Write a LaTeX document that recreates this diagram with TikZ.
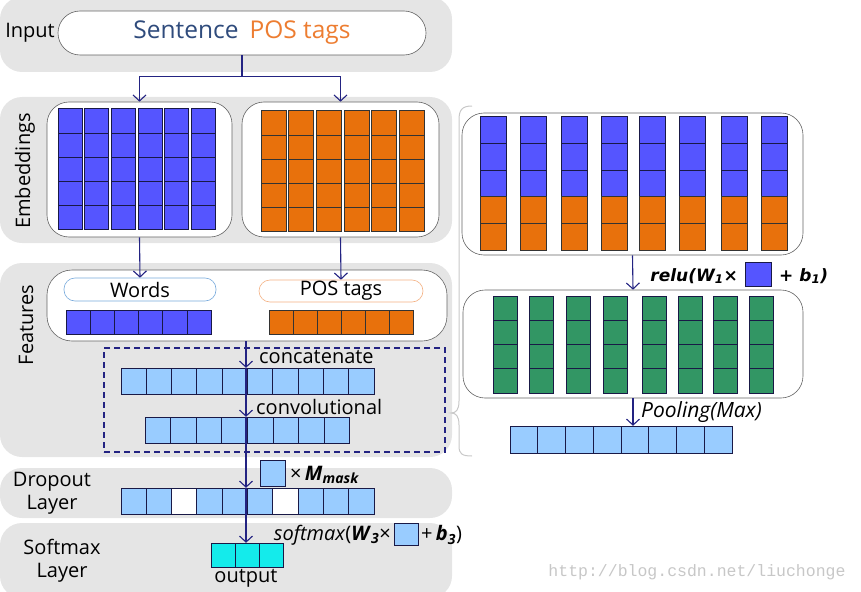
\documentclass[tikz,border=0pt]{standalone}
\usepackage{fontspec}
\setmainfont{Open Sans}
\newfontfamily\wmfont{Liberation Mono}
\newfontfamily\relufont{DejaVu Sans}
\usetikzlibrary{arrows.meta}
\definecolor{bandgray}{RGB}{229,229,229}
\definecolor{cellblue}{RGB}{85,85,255}
\definecolor{cellorange}{RGB}{232,113,12}
\definecolor{celllight}{RGB}{153,204,255}
\definecolor{cellgreen}{RGB}{50,150,100}
\definecolor{cellcyan}{RGB}{20,235,235}
\definecolor{navy}{RGB}{35,35,130}
\definecolor{edgecol}{RGB}{25,25,70}
\definecolor{sentblue}{RGB}{47,75,124}
\definecolor{posorange}{RGB}{237,125,49}
\definecolor{pillblue}{RGB}{120,170,220}
\definecolor{pillorange}{RGB}{244,177,131}
\definecolor{boxline}{RGB}{100,100,100}
\definecolor{bracegray}{RGB}{200,200,200}
\begin{document}
\begin{tikzpicture}[x=1pt,y=-1pt,
  font=\fontsize{20}{23}\selectfont,
  band/.style={fill=bandgray, rounded corners=22pt},
  wbox/.style={fill=white, draw=boxline, line width=0.6pt, rounded corners=22pt, inner sep=0pt},
  cellb/.style={fill=cellblue, draw=edgecol, line width=1pt},
  cello/.style={fill=cellorange, draw=black!80, line width=1pt},
  celll/.style={fill=celllight, draw=edgecol, line width=1pt},
  cellw/.style={fill=white, draw=edgecol, line width=1pt},
  cellg/.style={fill=cellgreen, draw=edgecol, line width=1pt},
  cellc/.style={fill=cellcyan, draw=edgecol, line width=1pt},
  rowbox/.style={draw=none, inner sep=0pt},
  lbl/.style={inner sep=0pt},
  conn/.style={draw=navy, line width=1.1pt},
  arr/.style={draw=navy, line width=1.1pt, -{Straight Barb[length=6pt,width=13pt]}},
]
\useasboundingbox (0,0) rectangle (861,591);

% bands
\fill[band] (0,-3) rectangle (452,72);
\fill[band] (0,97) rectangle (452,243);
\fill[band] (0,263) rectangle (452,457);
\fill[band] (0,468) rectangle (452,518);
\fill[band] (0,523) rectangle (452,598);

% band labels
\node[lbl] (linput) at (30,33) {Input};
\node[lbl, rotate=90] (lemb) at (25,171) {Embeddings};
\node[lbl, rotate=90] (lfeat) at (26,325) {Features};
\node[lbl, align=center] (ldrop) at (52,493) {Dropout\\Layer};
\node[lbl, align=center] (lsoft) at (62,561) {Softmax\\Layer};

% input pill
\node[wbox, minimum width=368pt, minimum height=44pt] (pill) at (242,33)
  {\fontsize{24.5}{27}\selectfont\textcolor{sentblue}{Sentence}\hspace{0.45em}\textcolor{posorange}{POS tags}};

% embeddings boxes
\node[wbox, minimum width=185pt, minimum height=135pt] (embL) at (139.5,169.5) {};
\node[wbox, minimum width=197pt, minimum height=135pt] (embR) at (340.5,169.5) {};
\foreach \i in {0,...,5}{\foreach \j in {0,...,4}{
  \draw[cellb] ({58+\i*26.7},{109+\j*24}) rectangle ++(24,24);
  \draw[cello] ({261+\i*27.7},{111+\j*24}) rectangle ++(25,24);
}}

% input arrows
\draw[conn] (pill.south) -- ++(0,21) coordinate (split);
\draw[arr] (split) -| (embL.north);
\draw[arr] (split) -| (embR.north);

% features box
\node[wbox, minimum width=400pt, minimum height=71pt, rounded corners=25pt] (featbox) at (247,305.5) {};
\node[fill=white, draw=pillblue, line width=0.6pt, rounded corners=11pt, minimum width=152pt, minimum height=23pt, inner sep=0pt] (words) at (140,289.5) {Words};
\node[fill=white, draw=pillorange, line width=0.6pt, rounded corners=11pt, minimum width=164pt, minimum height=22pt, inner sep=0pt] (postags) at (341,291) {POS tags};
\foreach \i in {0,...,5}{
  \draw[cellb] ({66+\i*24.2},310) rectangle ++(24.2,24);
  \draw[cello] ({269+\i*24},310) rectangle ++(24,24);
}
\draw[arr] (embL.south) -- (words.north);
\draw[arr] (embR.south) -- (postags.north);

% dashed region
\node[draw=navy, dash pattern=on 6pt off 4pt, line width=1.1pt, minimum width=341pt, minimum height=104pt, inner sep=0pt] (dashbox) at (274.5,400) {};

% concatenate / convolutional rows
\foreach \i in {0,...,9}{\draw[celll] ({121+\i*25.3},368) rectangle ++(25.3,26);}
\node[rowbox, minimum width=253pt, minimum height=26pt] (concat) at (247.5,381) {};
\foreach \i in {0,...,7}{\draw[celll] ({145+\i*25.6},417) rectangle ++(25.6,26);}
\node[rowbox, minimum width=205pt, minimum height=26pt] (conv) at (247.5,430) {};
\node[lbl, anchor=west] (tconcat) at (259,357) {concatenate};
\node[lbl, anchor=west] (tconv) at (256,407) {convolutional};

% dropout row
\foreach \i in {0,...,9}{
  \ifnum\i=2 \def\st{cellw}\else\ifnum\i=6 \def\st{cellw}\else\def\st{celll}\fi\fi
  \draw[\st] ({121+\i*25.3},488) rectangle ++(25.3,26);}
\node[rowbox, minimum width=253pt, minimum height=26pt] (drop) at (247.5,501) {};
\node[celll, minimum width=25pt, minimum height=26pt, inner sep=0pt] (maskSq) at (272.5,473) {};
\node[lbl, anchor=west] (tmask) at (290,475) {×\,\textbf{\textit{M}}\textsubscript{\textbf{\textit{mask}}}};

% output row
\foreach \i in {0,...,2}{\draw[cellc] ({211+\i*24},543) rectangle ++(24,24);}
\node[rowbox, minimum width=72pt, minimum height=24pt] (out) at (247,555) {};
\node[lbl] (tout) at (246,578) {output};
\node[celll, minimum width=24pt, minimum height=22pt, inner sep=0pt] (smSq) at (406,534) {};
\node[lbl, anchor=east] (tsmL) at (391,535) {\textit{softmax}(\textbf{\textit{W}}\textsubscript{\textbf{\textit{3}}}×};
\node[lbl, anchor=west] (tsmR) at (421,535) {+\,\textbf{\textit{b}}\textsubscript{\textbf{\textit{3}}})};

% trunk arrows
\coordinate (t0) at (246,341);
\draw[arr] (t0) -- (t0 |- concat.north);
\draw[arr] (t0 |- concat.north) -- (t0 |- conv.north);
\draw[arr] (t0 |- conv.north) -- (t0 |- drop.north);
\draw[arr] (t0 |- drop.north) -- (t0 |- out.north);

% right panel brace
\draw[bracegray, line width=1pt] (472,106) .. controls (462,106) and (459,110) .. (459,120)
  -- (459,401) .. controls (459,410) and (456,413) .. (451,413)
  .. controls (456,413) and (459,416) .. (459,425)
  -- (459,446) .. controls (459,454) and (462,456) .. (472,456);

% right top box
\node[wbox, minimum width=341pt, minimum height=142pt] (topbox) at (632.5,184) {};
\foreach \cx in {480,520,561,601,639,679,721,761}{
  \foreach \j in {0,1,2}{\draw[cellb] (\cx,{117+\j*26.6}) rectangle ++(26.5,26.6);}
  \foreach \j in {3,4}{\draw[cello] (\cx,{117+\j*26.6}) rectangle ++(26.5,26.6);}
}

% relu label
\node[cellb, minimum width=26pt, minimum height=24pt, inner sep=0pt] (reluSq) at (758,274) {};
\node[lbl, anchor=east, font=\relufont\fontsize{17}{20}\selectfont] (treluL) at (738,276) {\textbf{\textit{relu(W\textsubscript{1}×}}};
\node[lbl, anchor=west, font=\relufont\fontsize{17}{20}\selectfont] (treluR) at (779,276) {\textbf{\textit{+ b\textsubscript{1})}}};

% green box
\node[wbox, minimum width=340pt, minimum height=108pt] (greenbox) at (633,344) {};
\foreach \cx in {493,529,566,603,642,678,713,749}{
  \foreach \j in {0,...,3}{\draw[cellg] (\cx,{296+\j*24.3}) rectangle ++(24.5,24.3);}
}
\draw[arr] (topbox.south) -- (greenbox.north);

% pooling row
\foreach \i in {0,...,7}{\draw[celll] ({510+\i*27.75},426) rectangle ++(27.75,27);}
\node[rowbox, minimum width=222pt, minimum height=27pt] (pool) at (621,439.5) {};
\draw[arr] (greenbox.south) -- (greenbox.south |- pool.north);
\node[lbl, anchor=west, font=\fontsize{21}{24}\selectfont] (tpool) at (641,412) {\textit{Pooling(Max)}};

% watermark
\node[lbl, font=\wmfont\fontsize{16.5}{18}\selectfont, text=black!22] (wm) at (697,572) {http://blog.csdn.net/liuchonge};
\end{tikzpicture}
\end{document}
